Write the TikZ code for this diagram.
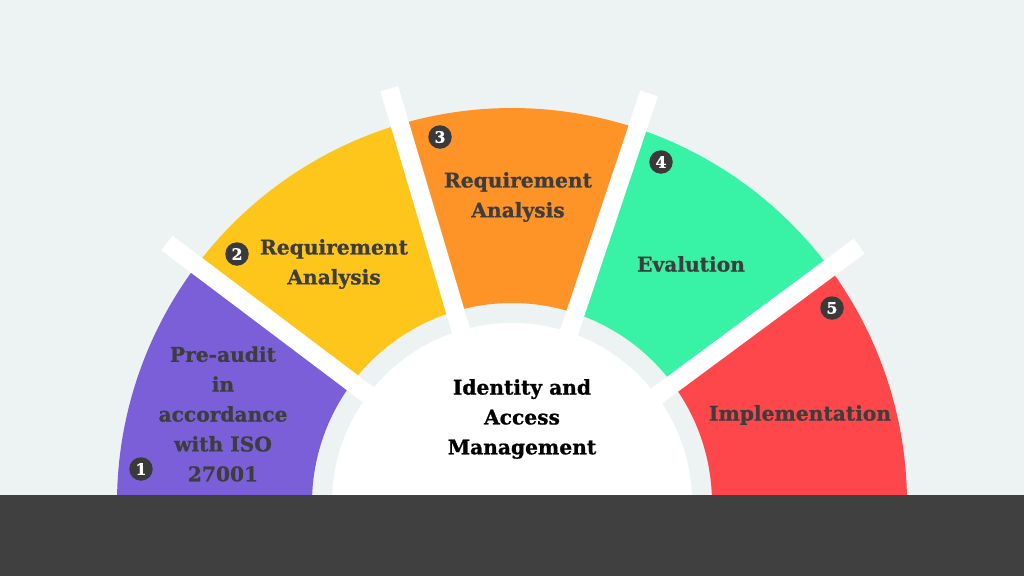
\documentclass[tikz,border=0pt]{standalone}
\usepackage{fontspec}
\setmainfont{DejaVu Serif}[BoldFeatures={FakeBold=0.8}]
\definecolor{bgc}{HTML}{EDF3F3}
\definecolor{barc}{HTML}{404040}
\definecolor{txtc}{HTML}{3D3D3D}
\definecolor{badgec}{HTML}{3A3A3A}
\definecolor{segA}{HTML}{7B5FD9}
\definecolor{segB}{HTML}{FEC61B}
\definecolor{segC}{HTML}{FE9428}
\definecolor{segD}{HTML}{38F2A6}
\definecolor{segE}{HTML}{FE474A}

\begin{document}
\begin{tikzpicture}[x=.2mm,y=.2mm,
    lbl/.style={font=\bfseries\fontsize{11.5}{17}\selectfont,text=txtc,align=center},
    badge/.style={circle,fill=badgec,text=white,inner sep=0pt,minimum size=4.7mm,
      font=\bfseries\fontsize{9}{9}\selectfont},
    gap/.style={white,line width=3.7mm}]
	\fill[bgc] (0,0) rectangle (1024,576);
	\useasboundingbox (0,0) rectangle (1024,576);
	% half ring of five steps
	\begin{scope}[shift={(512,73)}]
		\fill[segA] (143:200) arc[start angle=143,end angle=186,radius=200] -- (186:395) arc[start angle=186,end angle=143,radius=395] -- cycle;
		\fill[segB] (106.5:200) arc[start angle=106.5,end angle=143,radius=200] -- (143:395) arc[start angle=143,end angle=106.5,radius=395] -- cycle;
		\fill[segC] (71.5:200) arc[start angle=71.5,end angle=106.5,radius=200] -- (106.5:395) arc[start angle=106.5,end angle=71.5,radius=395] -- cycle;
		\fill[segD] (36.5:200) arc[start angle=36.5,end angle=71.5,radius=200] -- (71.5:395) arc[start angle=71.5,end angle=36.5,radius=395] -- cycle;
		\fill[segE] (-6:200) arc[start angle=-6,end angle=36.5,radius=200] -- (36.5:395) arc[start angle=36.5,end angle=-6,radius=395] -- cycle;
		\fill[white] (0,0) circle[radius=180];
		\draw[gap] (143:178) -- (143:432);
		\draw[gap] (106.5:178) -- (106.5:432);
		\draw[gap] (71.5:178) -- (71.5:432);
		\draw[gap] (36.5:178) -- (36.5:432);
	\end{scope}
	\fill[barc] (0,0) rectangle (1024,81);
	% labels
	\node[lbl] (preaudit) at (223,162) {Pre-audit\\in\\accordance\\with ISO\\27001};
	\node[lbl] (reqa) at (334,312) {Requirement\\Analysis};
	\node[lbl] (reqb) at (518,379) {Requirement\\Analysis};
	\node[lbl] (eval) at (691,312) {Evalution};
	\node[lbl] (impl) at (800,161) {Implementation};
	\node[lbl,text=black] (iam) at (522,157) {Identity and\\Access\\Management};
	% step numbers
	\node[badge] (n1) at (141,107) {1};
	\node[badge] (n2) at (237,322) {2};
	\node[badge] (n3) at (440,439) {3};
	\node[badge] (n4) at (661,414) {4};
	\node[badge] (n5) at (832,268) {5};
\end{tikzpicture}
\end{document}
